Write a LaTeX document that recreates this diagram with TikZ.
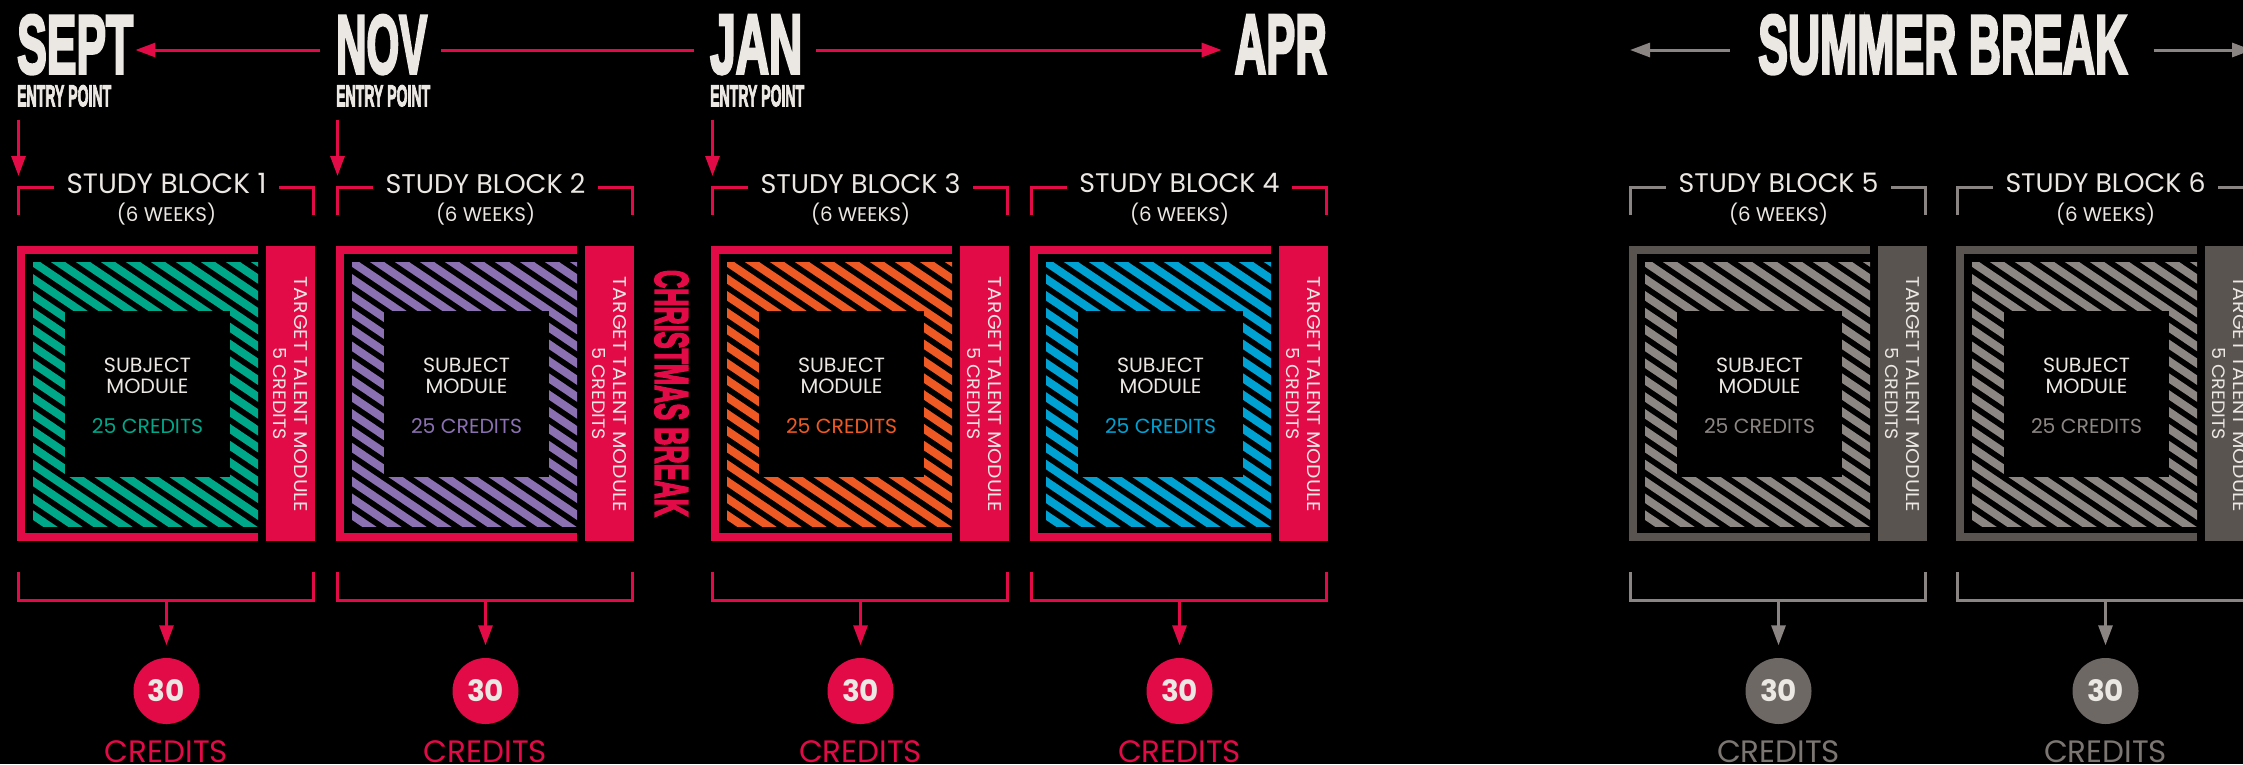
\documentclass[tikz,border=0pt]{standalone}
\usepackage{fontspec}
\usepackage{graphicx}
\setmainfont{Poppins}
\newfontfamily\condfont[FakeBold=4]{Liberation Sans}
\usetikzlibrary{arrows.meta,calc}
\definecolor{cred}{HTML}{E30A48}
\definecolor{cteal}{HTML}{00A88A}
\definecolor{cpurple}{HTML}{8B70B2}
\definecolor{corange}{HTML}{EF5A24}
\definecolor{cblue}{HTML}{00A2D3}
\definecolor{cwhite}{HTML}{EBE7E2}
\definecolor{gframe}{HTML}{5A5451}
\definecolor{ghatch}{HTML}{8D8784}
\definecolor{gline}{HTML}{8A8482}
\definecolor{gcirc}{HTML}{6E6865}
\definecolor{gtext}{HTML}{7C7673}
\newcommand\cond[3]{\resizebox{#1pt}{#2pt}{\condfont\bfseries #3}}
\newcommand\fitw[2]{\resizebox{#1pt}{!}{#2}}
\newcommand\fitwh[3]{\resizebox{#1pt}{#2pt}{#3}}
\tikzset{
  txt/.style={text=cwhite, inner sep=0pt},
  arrc/.style={draw=#1, line width=3pt, -{Triangle[width=14pt,length=20pt]}},
  plainline/.style={draw=#1, line width=3pt},
  brk/.style={draw=#1, line width=3pt},
  panel/.style={fill=#1, inner sep=0pt, anchor=north west},
}
% #1 x, #2 number, #3 frame colour, #4 hatch colour, #5 25-credits colour,
% #6 bracket colour, #7 circle colour, #8 CREDITS colour
\newcommand\studyblock[8]{%
  \node[panel=#3, minimum width=241pt, minimum height=8pt] (ftop#2) at (#1,246) {};
  \node[panel=#3, minimum width=8pt, minimum height=295pt] (fleft#2) at (#1,246) {};
  \node[panel=#3, minimum width=241pt, minimum height=8pt] (fbot#2) at (#1,533) {};
  \begin{scope}
    \clip (#1+16,262) rectangle (#1+241,526);
    \foreach \k in {-17,...,10}
      \draw[#4, line width=8pt] (#1+16+\k*25-60,221.5) -- ++(480,324);
  \end{scope}
  \node[panel=black, minimum width=165pt, minimum height=166pt] (core#2) at (#1+48,311) {};
  \node[txt, anchor=north] (subj#2) at (#1+130.5,358) {\fitw{87}{SUBJECT}};
  \node[txt, anchor=north] (mod#2) at (#1+130.5,379) {\fitw{82}{MODULE}};
  \node[txt, anchor=north, text=#5] (cred#2) at (#1+130.5,418) {\fitw{111}{25 CREDITS}};
  \node[panel=#3, minimum width=49pt, minimum height=295pt] (side#2) at (#1+249,246) {};
  \node[txt, rotate=-90] (tt#2) at (#1+283.5,394.5) {\fitwh{235}{13}{TARGET TALENT MODULE}};
  \node[txt, rotate=-90] (tc#2) at (#1+262.5,393.5) {\fitwh{93}{13}{5 CREDITS}};
  \node[txt, anchor=north] (title#2) at (#1+149.5,173) {\fitw{200}{STUDY BLOCK #2}};
  \node[txt, anchor=north] (wk#2) at (#1+149.5,203) {\fitw{99}{(6 WEEKS)}};
  \coordinate (bt#2) at (#1+1.5,187);
  \draw[brk=#6] (#1+1.5,215) -- (bt#2) -- (#1+37,187);
  \draw[brk=#6] (#1+262,187) -- (#1+296.5,187) -- (#1+296.5,215);
  \coordinate (bb#2) at (#1+149.5,600);
  \draw[brk=#6] (#1+1.5,572) -- (#1+1.5,600) -- (#1+296.5,600) -- (#1+296.5,572);
  \node[circle, fill=#7, minimum size=66pt, inner sep=0pt, text=cwhite] (circ#2) at (#1+149.5,691) {\fitw{37}{\bfseries 30}};
  \draw[arrc=#6, shorten >=12.5pt] (bb#2) -- (circ#2);
  \node[inner sep=0pt, anchor=base, text=#8] (crs#2) at (#1+149.5,762) {\fitw{123}{CREDITS}};
}
\begin{document}
\begin{tikzpicture}[x=1pt,y=-1pt]
\useasboundingbox (0,0) rectangle (2243,764);
\clip (0,0) rectangle (2243,764);
\fill[black] (0,0) rectangle (2243,764);
\coordinate (yline) at (0,50);
% month labels
\node[txt, anchor=north west] (sept) at (17,15) {\cond{116}{58}{SEPT}};
\node[txt, anchor=north west] (nov) at (336,15) {\cond{91}{58}{NOV}};
\node[txt, anchor=north west] (jan) at (710,15) {\cond{92}{58}{JAN}};
\node[txt, anchor=north east] (apr) at (1327,15) {\cond{92}{58}{APR}};
\node[txt, anchor=north west] (summer) at (1758,15) {\cond{369}{58}{SUMMER BREAK}};
\node[txt, anchor=north west] (ep1) at (17,85) {\cond{94}{21}{ENTRY POINT}};
\node[txt, anchor=north west] (ep2) at (336,85) {\cond{94}{21}{ENTRY POINT}};
\node[txt, anchor=north west] (ep3) at (710,85) {\cond{94}{21}{ENTRY POINT}};
\coordinate (sl) at (1630,50);
\coordinate (sr) at (2252,50);
% blocks
\studyblock{17}{1}{cred}{cteal}{cteal}{cred}{cred}{cred}
\studyblock{336}{2}{cred}{cpurple}{cpurple}{cred}{cred}{cred}
\studyblock{711}{3}{cred}{corange}{corange}{cred}{cred}{cred}
\studyblock{1030}{4}{cred}{cblue}{cblue}{cred}{cred}{cred}
\studyblock{1629}{5}{gframe}{ghatch}{ghatch}{gline}{gcirc}{gtext}
\studyblock{1956}{6}{gframe}{ghatch}{ghatch}{gline}{gcirc}{gtext}
% timeline
\draw[arrc=cred, shorten <=16pt, shorten >=2pt] (nov.west |- yline) -- (sept.east |- yline);
\draw[plainline=cred, shorten <=14pt, shorten >=16pt] (nov.east |- yline) -- (jan.west |- yline);
\draw[arrc=cred, shorten <=14pt, shorten >=13pt] (jan.east |- yline) -- (apr.west |- yline);
\draw[arrc=gline, shorten <=28pt] (summer.west |- yline) -- (sl);
\draw[arrc=gline, shorten <=26pt] (summer.east |- yline) -- (sr);
% entry arrows
\draw[arrc=cred, shorten <=13pt, shorten >=11pt] (ep1.south -| bt1) -- (bt1);
\draw[arrc=cred, shorten <=13pt, shorten >=11pt] (ep2.south -| bt2) -- (bt2);
\draw[arrc=cred, shorten <=13pt, shorten >=11pt] (ep3.south -| bt3) -- (bt3);
% christmas break
\node[inner sep=0pt, rotate=-90, text=cred] (xmas) at (671.5,393.5) {\cond{247}{33}{CHRISTMAS BREAK}};
\end{tikzpicture}
\end{document}
